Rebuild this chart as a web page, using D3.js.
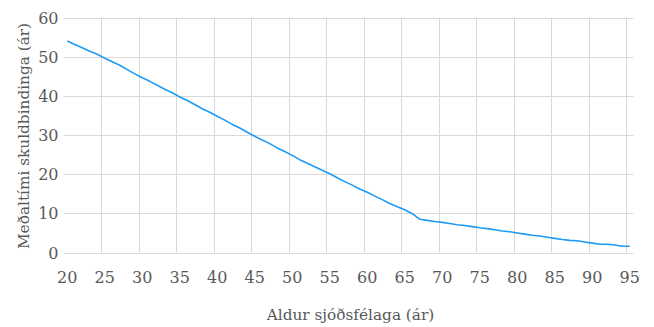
<!DOCTYPE html>
<html>
<head>
<meta charset="utf-8">
<script src="https://cdn.jsdelivr.net/npm/d3@7"></script>
<style>
  body { margin: 0; background: #fff; }
  svg text { font-family: "DejaVu Serif", serif; fill: #595959; }
</style>
</head>
<body>
<svg id="chart" width="654" height="327"></svg>
<script>
// The svg
const svg = d3.select("#chart"),
    width = +svg.attr("width"),
    height = +svg.attr("height");

// ages on the category axis
const ages = d3.range(20, 96);

// mean duration of obligations (years)
const duration = [
    54.0, 53.1, 52.3, 51.4, 50.6, 49.6, 48.7, 47.8, 46.7, 45.6,
    44.6, 43.7, 42.7, 41.7, 40.8, 39.7, 38.8, 37.8, 36.7, 35.8,
    34.8, 33.8, 32.7, 31.8, 30.7, 29.7, 28.7, 27.8, 26.7, 25.8,
    24.8, 23.7, 22.8, 21.9, 21.0, 20.1, 19.1, 18.1, 17.2, 16.2,
    15.4, 14.4, 13.5, 12.5, 11.7, 10.9, 9.9, 8.5, 8.2, 7.9,
    7.7, 7.4, 7.1, 6.9, 6.6, 6.3, 6.1, 5.8, 5.5, 5.3,
    5.0, 4.7, 4.4, 4.2, 3.9, 3.6, 3.3, 3.1, 3.0, 2.7,
    2.4, 2.1, 2.1, 1.9, 1.6, 1.6
];

const xTickAges = [20, 25, 30, 35, 40, 45, 50, 55, 60, 65, 70, 75, 80, 85, 90, 95];
const yTicks = [0, 10, 20, 30, 40, 50, 60];

const xTitle = "Aldur sjóðsfélaga (ár)";
const yTitle = "Meðaltími skuldbindinga (ár)";

const margin = { left: 63.5, right: 20.5, top: 17.5, bottom: 74.5 };

const x = d3.scaleBand()
    .domain(ages)
    .range([margin.left, width - margin.right])
    .padding(0);

const y = d3.scaleLinear()
    .domain([0, 60])
    .range([height - margin.bottom, margin.top]);

const grid = svg.append("g").attr("stroke", "#d9d9d9").attr("stroke-width", 1);

// horizontal gridlines
grid.selectAll("line.h")
    .data(yTicks)
    .enter()
    .append("line")
    .attr("class", "h")
    .attr("x1", margin.left)
    .attr("x2", width - margin.right)
    .attr("y1", d => Math.round(y(d)) + 0.5)
    .attr("y2", d => Math.round(y(d)) + 0.5);

// vertical gridlines between categories, every 5
grid.selectAll("line.v")
    .data(xTickAges.slice(1))
    .enter()
    .append("line")
    .attr("class", "v")
    .attr("x1", d => Math.round(x(d)) + 0.5)
    .attr("x2", d => Math.round(x(d)) + 0.5)
    .attr("y1", y(60))
    .attr("y2", y(0));

// y tick labels
svg.append("g")
    .selectAll("text")
    .data(yTicks)
    .enter()
    .append("text")
    .attr("x", margin.left - 5)
    .attr("y", d => y(d) + 6)
    .attr("text-anchor", "end")
    .style("font-size", "16px")
    .text(d => d);

// x tick labels
svg.append("g")
    .selectAll("text")
    .data(xTickAges)
    .enter()
    .append("text")
    .attr("x", d => x(d) + x.bandwidth() / 2)
    .attr("y", 282.5)
    .attr("text-anchor", "middle")
    .style("font-size", "16px")
    .text(d => d);

// the line
const line = d3.line()
    .x((d, i) => x(ages[i]) + x.bandwidth() / 2)
    .y(d => y(d));

svg.append("path")
    .datum(duration)
    .attr("fill", "none")
    .attr("stroke", "#1e9bf5")
    .attr("stroke-width", 1.6)
    .attr("stroke-linejoin", "round")
    .attr("d", line);

// axis titles
svg.append("text")
    .attr("x", (margin.left + width - margin.right) / 2 + 2)
    .attr("y", 320)
    .attr("text-anchor", "middle")
    .style("font-size", "15.3px")
    .text(xTitle);

svg.append("text")
    .attr("transform", `translate(29,${(y(0) + y(60)) / 2 + 1}) rotate(-90)`)
    .attr("text-anchor", "middle")
    .style("font-size", "15.3px")
    .text(yTitle);
</script>
</body>
</html>
